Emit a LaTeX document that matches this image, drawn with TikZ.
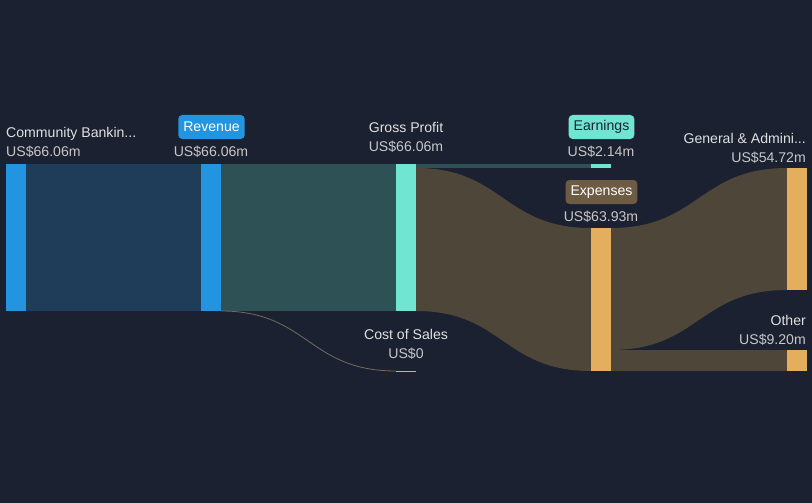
\documentclass[tikz,border=0pt]{standalone}
\usepackage{fontspec}
\setmainfont{Liberation Sans}
\begin{document}
\begin{tikzpicture}[x=1pt,y=-1pt,
  lbl/.style={font=\fontsize{14.1}{16}\selectfont, text=white!88!black, inner sep=0pt},
  val/.style={font=\fontsize{14.1}{16}\selectfont, text=white!78!black, inner sep=0pt},
  badge/.style={font=\fontsize{14.1}{16}\selectfont, rounded corners=4pt, inner xsep=5pt, minimum height=24pt},
  bar/.style={inner sep=0pt, minimum width=20pt, anchor=north west}]
\definecolor{bg}{HTML}{1B2130}
\definecolor{bblue}{HTML}{2394DF}
\definecolor{lblue}{HTML}{1F3D58}
\definecolor{cyanb}{HTML}{6FE5D2}
\definecolor{lteal}{HTML}{2E5155}
\definecolor{orangeb}{HTML}{E4AE5F}
\definecolor{lbrown}{HTML}{4E4638}
\definecolor{badgebrown}{HTML}{6E5B44}
\fill[bg] (0,0) rectangle (812,503);
\useasboundingbox (0,0) rectangle (812,503);
% links
\fill[lblue] (26,164) -- (201,164) -- (201,311) -- (26,311) -- cycle;
\fill[lteal] (221,164) -- (396,164) -- (396,311) -- (221,311) -- cycle;
\draw[lbrown!80!white, line width=0.8pt] (221,311) .. controls (308,311) and (308,371) .. (396,371);
\fill[lteal] (416,164) -- (591,164) -- (591,168) -- (416,168) -- cycle;
\fill[lbrown] (416,168) .. controls (503,168) and (503,228) .. (591,228) -- (591,371) .. controls (503,371) and (503,311) .. (416,311) -- cycle;
\fill[lbrown] (611,228) .. controls (699,228) and (699,168) .. (787,168) -- (787,290) .. controls (699,290) and (699,350) .. (611,350) -- cycle;
\fill[lbrown] (611,350) -- (787,350) -- (787,371) -- (611,371) -- cycle;
% bars
\node[bar, fill=bblue, minimum height=147pt] (cb) at (6,164) {};
\node[bar, fill=bblue, minimum height=147pt] (rev) at (201,164) {};
\node[bar, fill=cyanb, minimum height=147pt] (gp) at (396,164) {};
\node[bar, fill=orangeb, minimum height=1.5pt] (cos) at (396,370.5) {};
\node[bar, fill=cyanb, minimum height=4pt] (earn) at (591,164) {};
\node[bar, fill=orangeb, minimum height=143pt] (exp) at (591,228) {};
\node[bar, fill=orangeb, minimum height=122pt] (ga) at (787,168) {};
\node[bar, fill=orangeb, minimum height=21pt] (oth) at (787,350) {};
% labels
\node[lbl, anchor=base west] (cbl) at (6,138) {Community Bankin...};
\node[val, anchor=base west] (cbv) at (6,157) {US\$66.06m};
\node[badge, fill=bblue, text=white] (revl) at (211.5,127) {Revenue};
\node[val, anchor=base] (revv) at (211,157) {US\$66.06m};
\node[lbl, anchor=base] (gpl) at (406,132) {Gross Profit};
\node[val, anchor=base] (gpv) at (406,151) {US\$66.06m};
\node[badge, fill=cyanb, text=bg] (earnl) at (601.5,127) {Earnings};
\node[val, anchor=base] (earnv) at (601,157) {US\$2.14m};
\node[badge, fill=badgebrown, text=white] (expl) at (601.5,192) {Expenses};
\node[val, anchor=base] (expv) at (601,221) {US\$63.93m};
\node[lbl, anchor=base east] (gal) at (806,143) {General \& Admini...};
\node[val, anchor=base east] (gav) at (806,162) {US\$54.72m};
\node[lbl, anchor=base] (cosl) at (406,339) {Cost of Sales};
\node[val, anchor=base] (cosv) at (406,358) {US\$0};
\node[lbl, anchor=base east] (othl) at (806,325) {Other};
\node[val, anchor=base east] (othv) at (806,344) {US\$9.20m};
\end{tikzpicture}
\end{document}
